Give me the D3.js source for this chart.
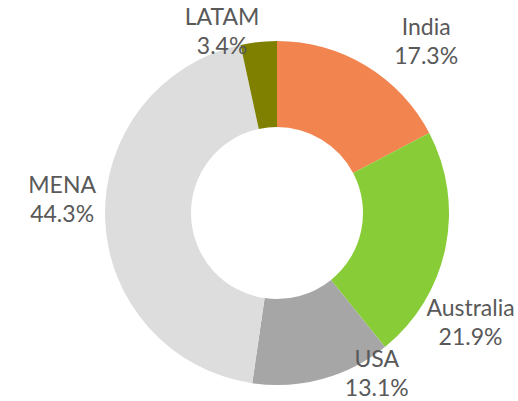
<!DOCTYPE html>
<html>
<head>
<meta charset="utf-8">
<script src="https://cdn.jsdelivr.net/npm/d3@7"></script>
<style>
  body { margin: 0; background: #fff; }
  text { font-family: Lato, "Open Sans", sans-serif; fill: #595959; }
</style>
</head>
<body>
<svg width="518" height="401"></svg>
<script>
var regions = ['India', 'Australia', 'USA', 'MENA', 'LATAM'];
var shares = [17.3, 21.9, 13.1, 44.3, 3.4];
var colours = ['#F2844F', '#88CC38', '#A6A6A6', '#DDDDDD', '#808000'];

var width = 518, height = 401;
var cx = 277, cy = 213;
var outerR = 172, innerR = 86;

// excel's "best fit" label spots, as nudges from a ring around the donut
var nudge = {
  India: [38, 14],
  Australia: [-17, 67],
  USA: [43, -45],
  MENA: [0, -19],
  LATAM: [-32, 34]
};

var data = regions.map(function(r, i){ return {region: r, share: shares[i]}; });

var svg = d3.select('svg');
var g = svg.append('g').attr('transform', 'translate(' + cx + ',' + cy + ')');

var pie = d3.pie().sort(null).value(function(d){ return d.share; });
var arc = d3.arc().innerRadius(innerR).outerRadius(outerR);
var labelArc = d3.arc().innerRadius(215).outerRadius(215);

var colour = d3.scaleOrdinal().domain(regions).range(colours);

var slices = pie(data);

g.selectAll('path.slice').data(slices).enter().append('path')
  .attr('class', 'slice')
  .attr('d', arc)
  .attr('fill', function(d){ return colour(d.data.region); });

var labels = g.selectAll('text.lbl').data(slices).enter().append('text')
  .attr('class', 'lbl')
  .attr('text-anchor', 'middle')
  .attr('font-size', 23)
  .attr('transform', function(d){
    var c = labelArc.centroid(d);
    var n = nudge[d.data.region];
    return 'translate(' + (c[0] + n[0]) + ',' + (c[1] + n[1]) + ')';
  });

labels.append('tspan').attr('x', 0).attr('y', -8)
  .text(function(d){ return d.data.region; });
labels.append('tspan').attr('x', 0).attr('y', 21)
  .text(function(d){ return d.data.share.toFixed(1) + '%'; });
</script>
</body>
</html>
